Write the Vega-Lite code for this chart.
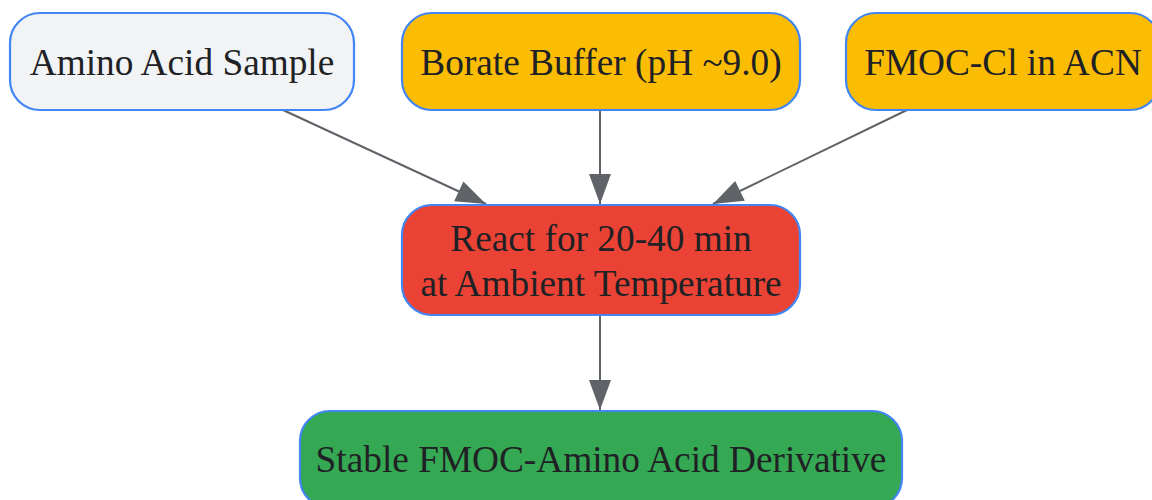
{
  "$schema": "https://vega.github.io/schema/vega-lite/v6.json",
  "width": 1152,
  "height": 500,
  "autosize": {"type": "fit", "contains": "padding"},
  "padding": 0,
  "background": "#ffffff",
  "config": {"view": {"stroke": null}},
  "datasets": {
    "nodes": [
      {"id": "sample", "label": "Amino Acid Sample", "kind": "input", "x0": 10, "x1": 354, "y0": 13, "y1": 110, "cx": 182, "cy": 75},
      {"id": "buffer", "label": "Borate Buffer (pH ~9.0)", "kind": "reagent", "x0": 402, "x1": 800, "y0": 13, "y1": 110, "cx": 601, "cy": 75},
      {"id": "fmoc", "label": "FMOC-Cl in ACN", "kind": "reagent", "x0": 846, "x1": 1160, "y0": 13, "y1": 110, "cx": 1003, "cy": 75},
      {"id": "react", "label": "React for 20-40 min\nat Ambient Temperature", "kind": "process", "x0": 402, "x1": 800, "y0": 205, "y1": 315, "cx": 601, "cy": 250.5},
      {"id": "product", "label": "Stable FMOC-Amino Acid Derivative", "kind": "product", "x0": 300, "x1": 902, "y0": 411, "y1": 508, "cx": 601, "cy": 472}
    ],
    "edges": [
      {"from": "sample", "to": "react", "xs": 283, "ys": 110, "xt": 486, "yt": 204},
      {"from": "buffer", "to": "react", "xs": 600, "ys": 110, "xt": 600, "yt": 204},
      {"from": "fmoc", "to": "react", "xs": 907, "ys": 110, "xt": 713, "yt": 204},
      {"from": "react", "to": "product", "xs": 600, "ys": 315, "xt": 600, "yt": 410}
    ]
  },
  "layer": [
    {
      "data": {"name": "edges"},
      "mark": {"type": "rule", "color": "#5f6368", "strokeWidth": 2, "clip": true},
      "encoding": {
        "x": {"field": "xs", "type": "quantitative", "scale": {"domain": [0, 1152]}, "axis": null},
        "y": {"field": "ys", "type": "quantitative", "scale": {"domain": [0, 500], "reverse": true}, "axis": null},
        "x2": {"field": "xt"},
        "y2": {"field": "yt"}
      }
    },
    {
      "data": {"name": "edges"},
      "transform": [
        {"calculate": "atan2(-(datum.xt - datum.xs), datum.yt - datum.ys) * 180 / PI", "as": "ang"}
      ],
      "mark": {"type": "point", "shape": "M0,0L-0.733,-2L0.733,-2Z", "filled": true, "color": "#5f6368", "opacity": 1, "size": 900, "clip": true},
      "encoding": {
        "x": {"field": "xt", "type": "quantitative", "scale": {"domain": [0, 1152]}, "axis": null},
        "y": {"field": "yt", "type": "quantitative", "scale": {"domain": [0, 500], "reverse": true}, "axis": null},
        "angle": {"field": "ang", "type": "quantitative", "scale": null}
      }
    },
    {
      "data": {"name": "nodes"},
      "mark": {"type": "rect", "cornerRadius": 30, "stroke": "#4285f4", "strokeWidth": 2.2, "clip": true},
      "encoding": {
        "x": {"field": "x0", "type": "quantitative", "scale": {"domain": [0, 1152]}, "axis": null},
        "x2": {"field": "x1"},
        "y": {"field": "y0", "type": "quantitative", "scale": {"domain": [0, 500], "reverse": true}, "axis": null},
        "y2": {"field": "y1"},
        "fill": {
          "field": "kind", "type": "nominal",
          "scale": {"domain": ["input", "reagent", "process", "product"], "range": ["#f1f3f4", "#fbbc04", "#ea4335", "#34a853"]},
          "legend": null
        }
      }
    },
    {
      "data": {"name": "nodes"},
      "mark": {"type": "text", "font": "Liberation Serif", "fontSize": 37.3, "color": "#202124", "align": "center", "baseline": "alphabetic", "lineBreak": "\n", "lineHeight": 45, "clip": true},
      "encoding": {
        "x": {"field": "cx", "type": "quantitative", "scale": {"domain": [0, 1152]}, "axis": null},
        "y": {"field": "cy", "type": "quantitative", "scale": {"domain": [0, 500], "reverse": true}, "axis": null},
        "text": {"field": "label", "type": "nominal"}
      }
    }
  ]
}
